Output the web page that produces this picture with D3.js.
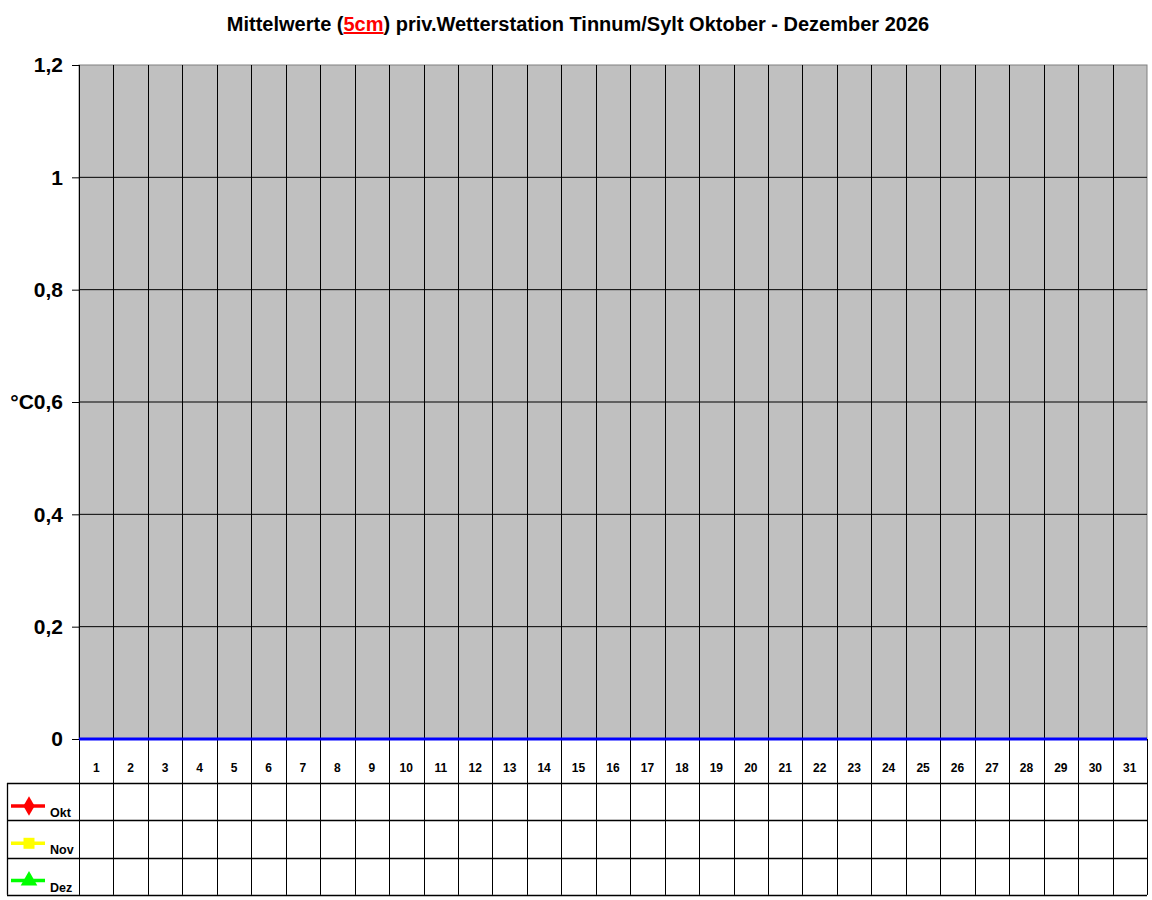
<!DOCTYPE html>
<html>
<head>
<meta charset="utf-8">
<script src="https://cdn.jsdelivr.net/npm/d3@7"></script>
<style>
  body { margin: 0; background: #fff; }
  text { font-family: "Liberation Sans", Arial, sans-serif; font-weight: bold; }
</style>
</head>
<body>
<svg width="1152" height="900"></svg>
<script>
// days of the month (x categories)
const days = d3.range(1, 32);
// y axis ticks
const yTicks = [0, 0.2, 0.4, 0.6, 0.8, 1, 1.2];
const yTickLabels = ["0", "0,2", "0,4", "°C0,6", "0,8", "1", "1,2"];
// series (no readings yet for 2026)
const seriesNames = ["Okt", "Nov", "Dez"];
const seriesColors = ["#ff0000", "#ffff00", "#00ff00"];
const okt = days.map(() => null);
const nov = days.map(() => null);
const dez = days.map(() => null);
const seriesValues = [okt, nov, dez];

const svg = d3.select("svg");
const plotLeft = 79, plotRight = 1147, plotTop = 65, zeroY = 739;
const tableTop = 783, rowH = 37.3, legendLeft = 7;

const x = d3.scaleBand().domain(days).range([plotLeft, plotRight]);
const y = d3.scaleLinear().domain([0, 1.2]).range([zeroY, plotTop]);

// title
const title = svg.append("text")
  .attr("x", 578).attr("y", 31)
  .attr("text-anchor", "middle")
  .attr("font-size", 20);
title.append("tspan").text("Mittelwerte (");
title.append("tspan").attr("fill", "#ff0000").attr("text-decoration", "underline").text("5cm");
title.append("tspan").text(") priv.Wetterstation Tinnum/Sylt Oktober - Dezember 2026");

// plot area
svg.append("rect")
  .attr("x", plotLeft).attr("y", plotTop)
  .attr("width", plotRight - plotLeft).attr("height", zeroY - plotTop)
  .attr("fill", "#c0c0c0").attr("stroke", "#808080");

// horizontal grid
svg.append("g").selectAll("line")
  .data(yTicks.filter(d => d > 0 && d < 1.2))
  .join("line")
  .attr("x1", plotLeft).attr("x2", plotRight)
  .attr("y1", d => y(d)).attr("y2", d => y(d))
  .attr("stroke", "#000");

// vertical column lines (through plot and table)
const tableBottom = tableTop + rowH * seriesNames.length;
svg.append("g").selectAll("line")
  .data(days.slice(1))
  .join("line")
  .attr("x1", d => Math.round(x(d)) + 0.5).attr("x2", d => Math.round(x(d)) + 0.5)
  .attr("y1", plotTop).attr("y2", tableBottom)
  .attr("stroke", "#000");

// y axis
const yAxis = svg.append("g")
  .attr("transform", `translate(${plotLeft},0)`)
  .call(d3.axisLeft(y).tickValues(yTicks).tickSize(7).tickPadding(9)
    .tickFormat((d, i) => yTickLabels[i]));
yAxis.select(".domain").remove();
yAxis.selectAll(".tick line").attr("stroke", "#000");
yAxis.selectAll(".tick text")
  .attr("font-size", 21).attr("fill", "#000")
  .attr("font-family", "Liberation Sans, Arial, sans-serif").attr("font-weight", "bold");
svg.append("line")
  .attr("x1", plotLeft + 0.5).attr("x2", plotLeft + 0.5)
  .attr("y1", plotTop).attr("y2", tableBottom)
  .attr("stroke", "#000");
svg.append("line")
  .attr("x1", plotRight + 0.5).attr("x2", plotRight + 0.5)
  .attr("y1", zeroY).attr("y2", tableBottom)
  .attr("stroke", "#000");

// zero line
svg.append("line")
  .attr("x1", plotLeft).attr("x2", plotRight)
  .attr("y1", y(0)).attr("y2", y(0))
  .attr("stroke", "#0000ff").attr("stroke-width", 3);

// day labels
svg.append("g").selectAll("text")
  .data(days)
  .join("text")
  .attr("x", d => x(d) + x.bandwidth() / 2)
  .attr("y", 772)
  .attr("text-anchor", "middle")
  .attr("font-size", 12)
  .text(d => d);

// table rows
const rowLines = d3.range(seriesNames.length + 1).map(i => tableTop + i * rowH);
svg.append("g").selectAll("line")
  .data(rowLines)
  .join("line")
  .attr("x1", legendLeft).attr("x2", plotRight)
  .attr("y1", d => Math.round(d) + 0.5).attr("y2", d => Math.round(d) + 0.5)
  .attr("stroke", "#000").attr("stroke-width", 1.3);
svg.append("line")
  .attr("x1", legendLeft + 0.5).attr("x2", legendLeft + 0.5)
  .attr("y1", tableTop).attr("y2", tableBottom)
  .attr("stroke", "#000").attr("stroke-width", 1.3);

// legend entries
const symbols = [d3.symbolDiamond, d3.symbolSquare, d3.symbolTriangle];
const symbolSizes = [110, 121, 120];
const leg = svg.append("g").selectAll("g")
  .data(seriesNames)
  .join("g")
  .attr("transform", (d, i) => `translate(0,${tableTop + i * rowH})`);
leg.append("line")
  .attr("x1", 11).attr("x2", 45).attr("y1", 23).attr("y2", 23)
  .attr("stroke", (d, i) => seriesColors[i]).attr("stroke-width", 3.5);
leg.append("path")
  .attr("transform", "translate(29,23)")
  .attr("d", (d, i) => d3.symbol(symbols[i], symbolSizes[i])())
  .attr("fill", (d, i) => seriesColors[i]);
leg.append("text")
  .attr("x", 50).attr("y", 34)
  .attr("font-size", 12.5)
  .text(d => d);

// series lines (empty data -> nothing drawn)
const line = d3.line()
  .defined(d => d != null)
  .x((d, i) => x(days[i]) + x.bandwidth() / 2)
  .y(d => y(d));
svg.append("g").selectAll("path")
  .data(seriesValues)
  .join("path")
  .attr("fill", "none")
  .attr("stroke", (d, i) => seriesColors[i])
  .attr("stroke-width", 2)
  .attr("d", line);
</script>
</body>
</html>
